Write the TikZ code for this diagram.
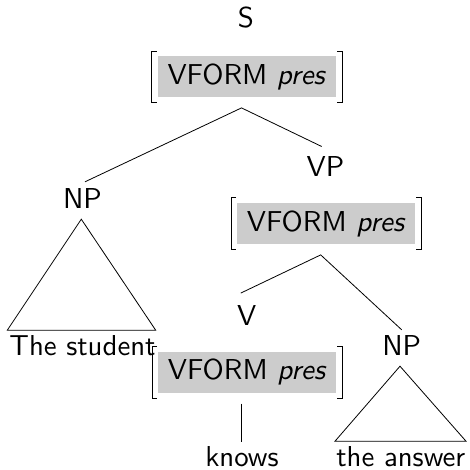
\documentclass[tikz,border=0pt]{standalone}
\usepackage{fontspec}
\setsansfont{lmsans10-regular.otf}[ItalicFont=lmsans10-oblique.otf]
\newcommand{\bigsf}{\fontsize{28.8}{34}\selectfont\sffamily}
\begin{document}
\begin{tikzpicture}[x=1pt,y=-1pt,
  lbl/.style={inner sep=0pt, anchor=base, font=\bigsf},
  avm/.style={fill=black!20, inner sep=0pt, minimum width=178pt, minimum height=41pt, font=\bigsf},
  brk/.style={line width=0.8pt},
  edge/.style={line width=0.8pt}]
\useasboundingbox (0,0) rectangle (469,470);
% nodes
\node[lbl] (s) at (246,28) {S};
\node[avm] (avm1) at (246.8,76.7) {VFORM \textit{pres}};
\node[lbl] (np1) at (82.5,208) {NP};
\node[lbl] (vp) at (325.5,177) {VP};
\node[avm] (avm2) at (326.2,223.5) {VFORM \textit{pres}};
\node[lbl] (v) at (246.7,325) {V};
\node[lbl] (np2) at (401.7,355) {NP};
\node[avm] (avm3) at (247.2,372.2) {VFORM \textit{pres}};
\node[lbl] (w1) at (82.5,355) {The student};
\node[lbl] (w2) at (242,466) {knows};
\node[lbl] (w3) at (400.8,466.5) {the answer};
% brackets
\foreach \a in {avm1,avm2,avm3}{
  \draw[brk] ([xshift=-1pt,yshift=5pt]\a.north west) -- ++(-5pt,0pt) |- ([xshift=-1pt,yshift=-5pt]\a.south west);
  \draw[brk] ([xshift=1pt,yshift=5pt]\a.north east) -- ++(5pt,0pt) |- ([xshift=1pt,yshift=-5pt]\a.south east);
}
% edges
\draw[edge] ([xshift=2.5pt,yshift=6pt]np1.north) -- ([xshift=-5.3pt,yshift=-10.5pt]avm1.south) -- ([xshift=-3.8pt,yshift=10.3pt]vp.north);
\draw[edge] ([xshift=-6pt,yshift=11.7pt]v.north) -- ([xshift=-5.5pt,yshift=-10.7pt]avm2.south) -- ([yshift=5pt]np2.north);
\draw[edge] ([xshift=-5.5pt,yshift=-10.6pt]avm3.south) -- ([xshift=-0.3pt,yshift=4.3pt]w2.north);
% triangles
\draw[edge] ([xshift=-1.2pt,yshift=-11pt]np1.south) -- ++(-74pt,-111pt) -- ++(148.4pt,0pt) -- cycle;
\draw[edge] ([xshift=-1.7pt,yshift=-11pt]np2.south) -- ++(-65pt,-75pt) -- ++(131pt,0pt) -- cycle;
\end{tikzpicture}
\end{document}
